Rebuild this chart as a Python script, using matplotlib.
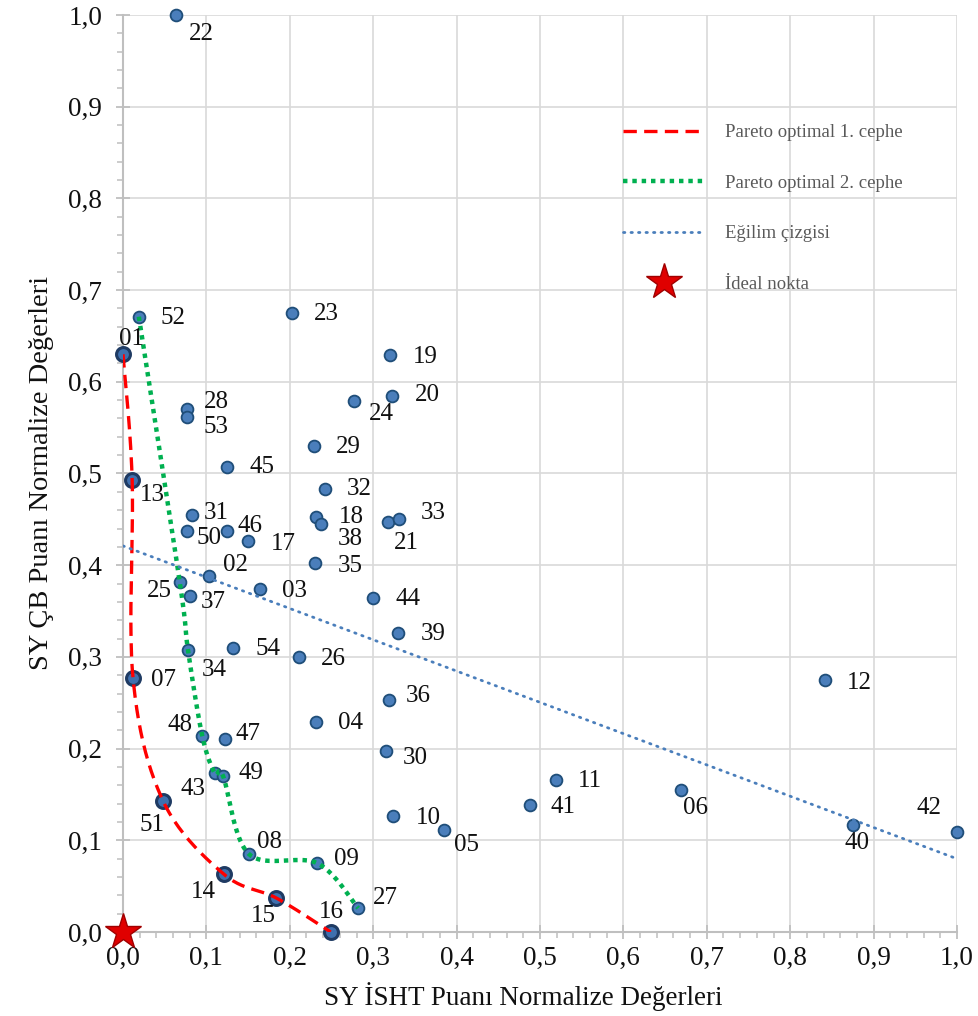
import numpy as np
import matplotlib
matplotlib.use("Agg")
import matplotlib.pyplot as plt
from matplotlib.ticker import MultipleLocator, FuncFormatter

plt.rcParams["font.family"] = ["Liberation Serif", "DejaVu Serif"]

# data
ids = ["01", "02", "03", "04", "05", "06", "07", "08", "09", "10",
       "11", "12", "13", "14", "15", "16", "17", "18", "19", "20",
       "21", "22", "23", "24", "25", "26", "27", "28", "29", "30",
       "31", "32", "33", "34", "35", "36", "37", "38", "39", "40",
       "41", "42", "43", "44", "45", "46", "47", "48", "49", "50",
       "51", "52", "53", "54"]
isht = [0.000, 0.103, 0.164, 0.231, 0.385, 0.669, 0.012, 0.151, 0.233, 0.324,
        0.519, 0.842, 0.011, 0.121, 0.184, 0.249, 0.150, 0.232, 0.320, 0.323,
        0.318, 0.064, 0.203, 0.277, 0.068, 0.211, 0.282, 0.077, 0.229, 0.315,
        0.083, 0.242, 0.331, 0.078, 0.230, 0.319, 0.080, 0.238, 0.330, 0.875,
        0.488, 1.000, 0.110, 0.300, 0.125, 0.125, 0.122, 0.095, 0.120, 0.077,
        0.048, 0.019, 0.077, 0.132]
cb = [0.630, 0.388, 0.374, 0.229, 0.111, 0.155, 0.277, 0.085, 0.075, 0.126,
      0.166, 0.275, 0.493, 0.063, 0.037, 0.000, 0.426, 0.453, 0.629, 0.584,
      0.447, 1.000, 0.675, 0.579, 0.382, 0.300, 0.026, 0.570, 0.530, 0.197,
      0.455, 0.483, 0.450, 0.307, 0.402, 0.253, 0.366, 0.445, 0.326, 0.117,
      0.138, 0.109, 0.173, 0.364, 0.507, 0.437, 0.210, 0.214, 0.170, 0.437,
      0.143, 0.671, 0.562, 0.310]

front1 = ["01", "13", "07", "51", "14", "15", "16"]
front2 = ["52", "25", "34", "48", "43", "49", "08", "09", "27"]
ideal = (0.0, 0.0)

# label offsets in pixels (dx right, dy down) relative to the point
lab_off = {
    "01": (9, -15), "02": (27, -11), "03": (35, 2), "04": (35, 1), "05": (22, 15),
    "06": (15, 18), "07": (30, 2), "08": (21, -12), "09": (29, -4), "10": (35, 2),
    "11": (34, 1), "12": (34, 3), "13": (20, 15), "14": (-21, 18), "15": (-13, 18),
    "16": (1, -20), "17": (35, 3), "18": (35, 0), "19": (35, 2), "20": (35, -1),
    "21": (18, 21), "22": (25, 19), "23": (34, 1), "24": (27, 13), "25": (-20, 9),
    "26": (34, 2), "27": (27, -10), "28": (29, -7), "29": (34, 1), "30": (30, 7),
    "31": (24, -2), "32": (34, 0), "33": (34, -6), "34": (26, 20), "35": (35, 3),
    "36": (29, -4), "37": (24, 6), "38": (29, 15), "39": (35, 1), "40": (4, 18),
    "41": (33, 2), "42": (-28, -24), "43": (-22, 16), "44": (35, 1), "45": (35, 0),
    "46": (23, -5), "47": (23, -5), "48": (-22, -11), "49": (28, -3), "50": (22, 7),
    "51": (-11, 24), "52": (34, 1), "53": (29, 10), "54": (35, 1),
}

x = np.array(isht)
y = np.array(cb)
pos = {k: i for i, k in enumerate(ids)}


def smooth(xs, ys, n=25):
    # catmull-rom curve through the points, like excel's smoothed line
    p = np.column_stack([xs, ys])
    p = np.vstack([p[0], p, p[-1]])
    t = np.linspace(0, 1, n)[:, None]
    segs = []
    for i in range(1, len(p) - 2):
        p0, p1, p2, p3 = p[i - 1], p[i], p[i + 1], p[i + 2]
        seg = 0.5 * (2 * p1 + (-p0 + p2) * t + (2 * p0 - 5 * p1 + 4 * p2 - p3) * t ** 2
                     + (-p0 + 3 * p1 - 3 * p2 + p3) * t ** 3)
        segs.append(seg if i == 1 else seg[1:])
    s = np.vstack(segs)
    return s[:, 0], s[:, 1]


fig = plt.figure(figsize=(9.79, 10.16), dpi=100)
ax = fig.add_axes([123 / 979, 84 / 1016, 834 / 979, 917 / 1016])

ax.set_xlim(0, 1)
ax.set_ylim(0, 1)

# points
ax.plot(x, y, "o", ms=8.5, mfc="#4A7EBB", mec="#1F4E79", mew=1.3, ls="none",
        zorder=3, clip_on=False)
f1 = [pos[k] for k in front1]
ax.plot(x[f1], y[f1], "o", ms=10, mfc="#3F70AE", mec="#1F3B63", mew=2.2, ls="none",
        zorder=3, clip_on=False)

# pareto fronts
sx, sy = smooth(x[f1], y[f1])
ax.plot(sx, sy, color="#FF0000", lw=2.4, dashes=(4, 2.2), zorder=4,
        label="Pareto optimal 1. cephe")
f2 = [pos[k] for k in front2]
sx, sy = smooth(x[f2], y[f2])
ax.plot(sx, sy, color="#00B050", lw=3.2, dashes=(1, 1.1), zorder=4,
        label="Pareto optimal 2. cephe")

# trend line
k, b = np.polyfit(x, y, 1)
tx = np.array([0.0, 1.0])
ax.plot(tx, k * tx + b, color="#4A7EBB", lw=2, ls=(0, (0.5, 2.2)),
        dash_capstyle="round", zorder=4, label="Eğilim çizgisi")

# ideal point
ax.plot(*ideal, marker="*", ms=27, mfc="#E00000", mec="#A00000", mew=1,
        ls="none", zorder=5, clip_on=False, label="İdeal nokta")

for k_id, i in pos.items():
    dx, dy = lab_off[k_id]
    ax.annotate(k_id, (x[i], y[i]), xytext=(dx, -dy), textcoords="offset pixels",
                ha="center", va="center", fontsize=18, color="#111111", zorder=6)

# axes styling
ax.xaxis.set_major_locator(MultipleLocator(0.1))
ax.yaxis.set_major_locator(MultipleLocator(0.1))
ax.xaxis.set_minor_locator(MultipleLocator(0.02))
ax.yaxis.set_minor_locator(MultipleLocator(0.02))
fmt = FuncFormatter(lambda v, p: f"{v:.1f}".replace(".", ","))
ax.xaxis.set_major_formatter(fmt)
ax.yaxis.set_major_formatter(fmt)
ax.grid(True, which="major", color="#D9D9D9", lw=1.2, zorder=0)
ax.set_axisbelow(True)
for s in ["top", "right"]:
    ax.spines[s].set_visible(False)
for s in ["left", "bottom"]:
    ax.spines[s].set_color("#BFBFBF")
    ax.spines[s].set_linewidth(1.5)
ax.tick_params(which="major", direction="inout", length=10, width=1.3,
               color="#BFBFBF", labelsize=19.5, labelcolor="#111111")
ax.tick_params(which="minor", direction="out", length=4, width=1.1, color="#BFBFBF")
ax.tick_params(axis="y", which="major", pad=10)
ax.tick_params(axis="x", which="major", pad=5)

ax.set_xlabel("SY İSHT Puanı Normalize Değerleri", fontsize=19.5, color="#111111",
              labelpad=6)
ax.xaxis.set_label_coords(0.48, -0.055)
ax.set_ylabel("SY ÇB Puanı Normalize Değerleri", fontsize=20.5, color="#111111",
              labelpad=10)

leg = ax.legend(loc="upper left", bbox_to_anchor=(623 / 979, 1 - 124 / 1016),
                bbox_transform=fig.transFigure, frameon=False, fontsize=13.5,
                handlelength=4.4, handletextpad=1.05, labelspacing=1.78,
                borderpad=0, borderaxespad=0)
for t in leg.get_texts():
    t.set_color("#595959")

fig.savefig("out.png", dpi=100)
